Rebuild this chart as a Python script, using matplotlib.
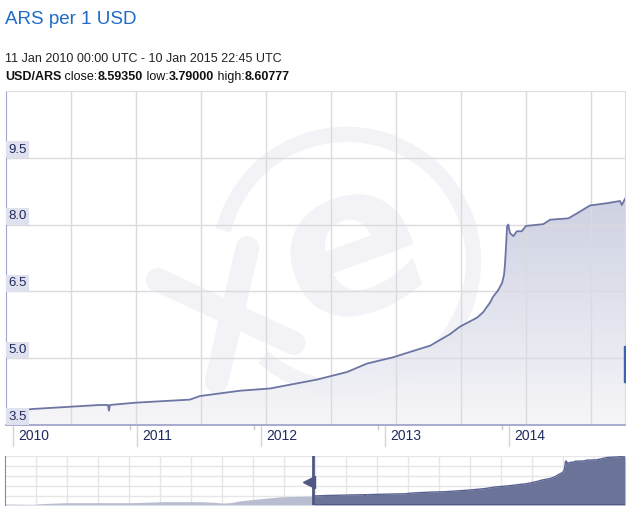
import numpy as np
import matplotlib.pyplot as plt
from matplotlib import patches, transforms

# USD/ARS, fractional years
years = [2009.944, 2010.161, 2010.702, 2010.766, 2010.774, 2010.782, 2010.984, 2011.105,
         2011.427, 2011.508, 2011.831, 2012.073, 2012.452, 2012.694, 2012.855, 2013.065,
         2013.258, 2013.363, 2013.524, 2013.605, 2013.742, 2013.790, 2013.847, 2013.871,
         2013.911, 2013.944, 2013.960, 2013.968, 2013.978, 2013.984, 2013.994, 2014.008,
         2014.035, 2014.062, 2014.102, 2014.137, 2014.276, 2014.331, 2014.478, 2014.546,
         2014.653, 2014.788, 2014.895, 2014.909, 2014.935]
rates = [3.80, 3.86, 3.95, 3.95, 3.82, 3.95, 4.00, 4.02,
         4.07, 4.15, 4.27, 4.32, 4.52, 4.69, 4.88, 5.02,
         5.19, 5.28, 5.54, 5.71, 5.91, 6.03, 6.25, 6.38,
         6.52, 6.69, 6.88, 7.14, 7.62, 7.96, 8.00, 7.81,
         7.74, 7.85, 7.85, 7.97, 8.01, 8.11, 8.14, 8.25,
         8.43, 8.48, 8.53, 8.44, 8.58]

# older history shown only in the navigator strip
nav_years_pre = [2005.02, 2005.47, 2005.63, 2006.01, 2007.07, 2007.55, 2008.14,
                 2008.35, 2008.50, 2008.62, 2008.78, 2009.14, 2009.46]
nav_rates_pre = [2.84, 2.80, 2.90, 3.00, 3.00, 3.12, 3.12,
                 3.05, 2.95, 3.00, 3.22, 3.50, 3.72]

y_ticks = [3.5, 5.0, 6.5, 8.0, 9.5]
y_labels = ['3.5', '5.0', '6.5', '8.0', '9.5']
year_ticks = [2010, 2011, 2012, 2013, 2014]
year_labels = ['2010', '2011', '2012', '2013', '2014']

W, H = 626, 518
fig = plt.figure(figsize=(W / 100, H / 100), dpi=100)
plt.rcParams['font.family'] = ['Liberation Sans', 'DejaVu Sans']

def fx(px):
    return px / W

def fy(py):
    return 1 - py / H

# ---------------- header
fig.text(fx(5), fy(20), 'ARS per 1 USD', fontsize=13.5, color='#1f6bc6', va='center')
fig.text(fx(5), fy(59), '11 Jan 2010 00:00 UTC - 10 Jan 2015 22:45 UTC', fontsize=9,
         color='#222222', va='center')

pieces = [('USD/ARS', 'bold'), (' close:', 'normal'), ('8.59350', 'bold'),
          (' low:', 'normal'), ('3.79000', 'bold'), (' high:', 'normal'), ('8.60777', 'bold')]
renderer = fig.canvas.get_renderer()
xpos = fx(5)
for s, w in pieces:
    t = fig.text(xpos, fy(77), s, fontsize=9, fontweight=w, color='#111111', va='center')
    bb = t.get_window_extent(renderer=renderer)
    xpos += bb.width / W

# ---------------- main chart
x0, x1 = 2009.944, 2014.935
ax = fig.add_axes([fx(6), fy(425), (625 - 6) / W, (425 - 91) / H])
ax.set_xlim(x0, x1)
ax.set_ylim(3.5, 11.0)
ax.set_xticks([])
ax.set_yticks([])

# watermark
wm = '#f3f3f7'
ring = patches.Arc((0.55, 0.49), 2 * 127 / 619, 2 * 127 / 334, theta1=-115, theta2=155,
                   transform=ax.transAxes, color=wm, lw=11, zorder=0.5)
ax.add_patch(ring)
ax.text(0.56, 0.52, 'e', transform=ax.transAxes, fontsize=150, fontweight='bold',
        family='DejaVu Sans', color=wm, rotation=20, ha='center', va='center', zorder=0.5)
ax.plot([0.245, 0.465], [0.435, 0.245], transform=ax.transAxes, color=wm, lw=17,
        solid_capstyle='round', zorder=0.5)
ax.plot([0.39, 0.34], [0.53, 0.13], transform=ax.transAxes, color=wm, lw=17,
        solid_capstyle='round', zorder=0.5)

# gradient fill under the line
grad = np.linspace(0, 1, 256).reshape(-1, 1)
cmap = plt.matplotlib.colors.LinearSegmentedColormap.from_list('g', ['#f6f6f9', '#c9cde0'])
img = ax.imshow(grad, extent=[x0, x1, 3.5, 8.6], origin='lower', aspect='auto',
                cmap=cmap, zorder=2, alpha=0.92)
verts = [(years[0], 3.5)] + list(zip(years, rates)) + [(years[-1], 3.5)]
clip = patches.Polygon(verts, closed=True, transform=ax.transData, fc='none', ec='none')
ax.add_patch(clip)
img.set_clip_path(clip)
ax.set_ylim(3.5, 11.0)

# grid
for v in y_ticks[1:]:
    ax.axhline(v, color='#dadadf', lw=1, zorder=2.5)
for g in np.arange(x0 + (70.7 - 6) / 124, x1, 65 / 124):
    ax.axvline(g, color='#dadadf', lw=1, zorder=2.5)

ax.plot(years, rates, color='#6d75a3', lw=1.3, zorder=3)

for s in ['top', 'right']:
    ax.spines[s].set_color('#dddddd')
ax.spines['left'].set_color('#a0a6cb')
ax.spines['bottom'].set_color('#a0a6cb')
ax.spines['bottom'].set_linewidth(1.3)

for v, lab in zip(y_ticks, y_labels):
    ax.text(x0 + 2.5 / 124, v + 0.05, lab, fontsize=9.5, color='#1f2a5c', va='bottom',
            ha='left', zorder=4,
            bbox=dict(boxstyle='square,pad=0.18', fc='#dfe1ee', ec='none'))

# year axis below
tb = transforms.blended_transform_factory(ax.transData, ax.transAxes)
for yr, lab in zip(year_ticks, year_labels):
    ax.plot([yr, yr], [0, -21 / 334], transform=tb, clip_on=False, color='#d6d6d6', lw=1)
    ax.text(yr + 5 / 124, -11 / 334, lab, transform=tb, fontsize=10, color='#1f2a5c',
            va='center', ha='left')
    if yr > 2010:
        ax.plot([yr - 7 / 124] * 2, [0, -4 / 334], transform=tb, clip_on=False,
                color='#c8c8c8', lw=1)

# small blue bar on the right edge
fig.patches.append(patches.Rectangle((fx(623.5), fy(382)), 2.5 / W, 36 / H,
                                     transform=fig.transFigure, color='#3a64ad'))

# ---------------- navigator
n0 = x0 - (313 - 5) / 62.5
nav = fig.add_axes([fx(5), fy(505), 620 / W, 49 / H])
nav.set_xlim(n0, x1)
nav.set_ylim(2.72, 8.6)
nav.set_xticks([])
nav.set_yticks([])
for s in ['top', 'right', 'bottom']:
    nav.spines[s].set_visible(False)
nav.spines['left'].set_color('#8a8a8a')

for g in np.arange(n0 + 31 / 62.5, x1, 31 / 62.5):
    nav.axvline(g, color='#e6e6e6', lw=1, zorder=0)
for f in [1.0, 0.796, 0.592, 0.388, 0.184]:
    nav.axhline(2.72 + f * (8.6 - 2.72), color='#e6e6e6', lw=1, zorder=0)

nx = nav_years_pre + [years[0]]
ny = nav_rates_pre + [rates[0]]
nav.fill_between(nx, ny, 2.72, color='#b9bdd1', lw=0, zorder=1)
nav.fill_between(years, rates, 2.72, color='#6b7399', lw=0, zorder=1)
nav.plot(years, rates, color='#5a6390', lw=1, zorder=2)
nav.axvline(years[0], color='#4f5884', lw=2, zorder=3)
nav.plot([years[0], x1], [2.75, 2.75], color='#4f5884', lw=2, zorder=3)
ntb = transforms.blended_transform_factory(nav.transData, nav.transAxes)
nav.plot([years[0] - 4 / 62.5], [0.47], transform=ntb, marker='<', ms=8,
         color='#4f5884', clip_on=False, zorder=4)

fig.savefig('out.png', dpi=100)
